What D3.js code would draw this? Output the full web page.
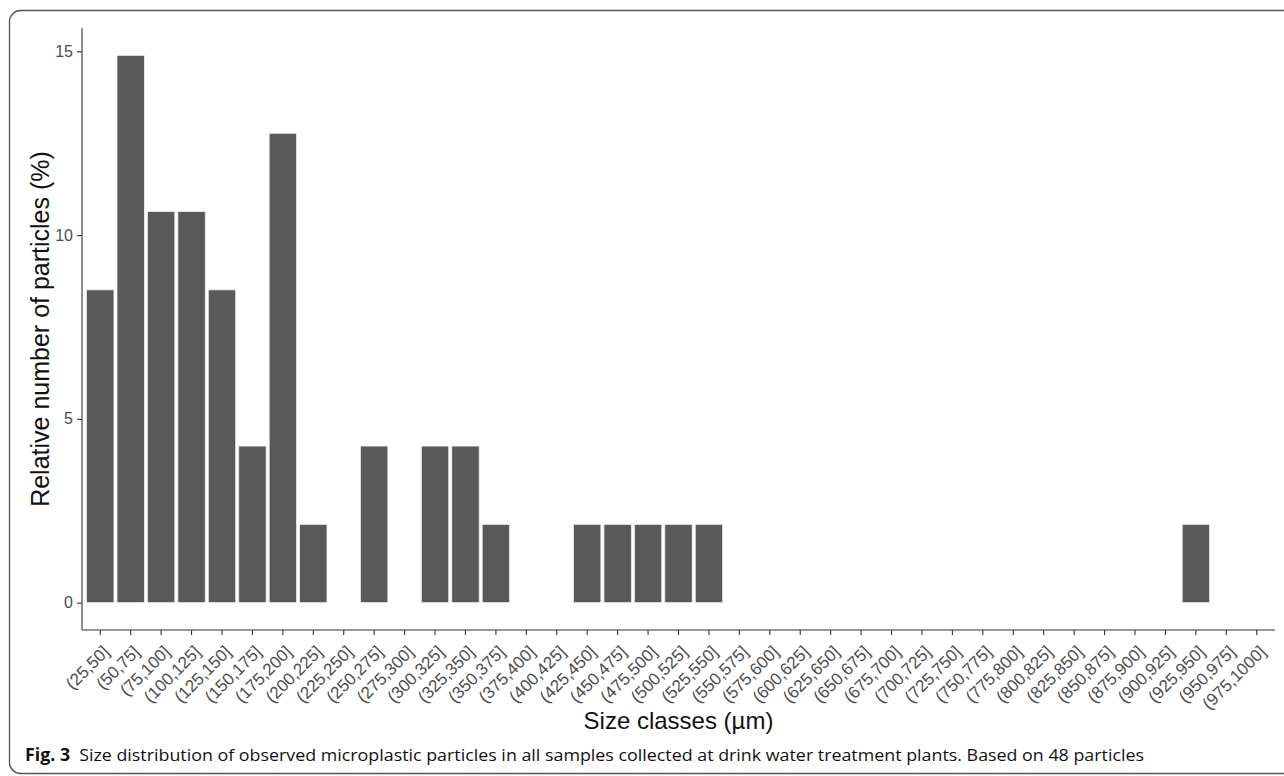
<!DOCTYPE html>
<html>
<head>
<meta charset="utf-8">
<script src="https://cdn.jsdelivr.net/npm/d3@7"></script>
<style>
  html, body { margin: 0; padding: 0; background: #fff; }
  svg { display: block; }
</style>
</head>
<body>
<svg id="chart" width="1284" height="776"></svg>
<script>
// Size classes (µm) and the share of particles in each class (%)
const sizeClasses = [
  "(25,50]", "(50,75]", "(75,100]", "(100,125]", "(125,150]", "(150,175]",
  "(175,200]", "(200,225]", "(225,250]", "(250,275]", "(275,300]", "(300,325]",
  "(325,350]", "(350,375]", "(375,400]", "(400,425]", "(425,450]", "(450,475]",
  "(475,500]", "(500,525]", "(525,550]", "(550,575]", "(575,600]", "(600,625]",
  "(625,650]", "(650,675]", "(675,700]", "(700,725]", "(725,750]", "(750,775]",
  "(775,800]", "(800,825]", "(825,850]", "(850,875]", "(875,900]", "(900,925]",
  "(925,950]", "(950,975]", "(975,1000]"
];
const relativeShare = [
  8.51, 14.89, 10.64, 10.64, 8.51, 4.26,
  12.77, 2.13, 0, 4.26, 0, 4.26,
  4.26, 2.13, 0, 0, 2.13, 2.13,
  2.13, 2.13, 2.13, 0, 0, 0,
  0, 0, 0, 0, 0, 0,
  0, 0, 0, 0, 0, 0,
  2.13, 0, 0
];
const yTicks = [0, 5, 10, 15];

const svg = d3.select("#chart");

// Figure frame
svg.append("rect")
  .attr("x", 9.5).attr("y", 10.5)
  .attr("width", 1320).attr("height", 763)
  .attr("rx", 11).attr("ry", 11)
  .attr("fill", "none")
  .attr("stroke", "#555")
  .attr("stroke-width", 1.3);

const panel = { left: 82, right: 1275, top: 28, bottom: 630 };

const x = d3.scaleBand()
  .domain(sizeClasses)
  .range([panel.left, panel.right])
  .paddingInner(0.1)
  .paddingOuter(0.15);

const yMax = d3.max(relativeShare);
const y = d3.scaleLinear()
  .domain([-0.05 * yMax, yMax * 1.05])
  .range([panel.bottom, panel.top]);

const data = sizeClasses.map((c, i) => ({ cls: c, value: relativeShare[i] }));

// Bars
svg.append("g")
  .selectAll("rect")
  .data(data.filter(d => d.value > 0))
  .join("rect")
  .attr("x", d => x(d.cls))
  .attr("width", x.bandwidth())
  .attr("y", d => y(d.value))
  .attr("height", d => y(0) - y(d.value))
  .attr("fill", "#595959")
  .attr("stroke", "#ececec")
  .attr("stroke-width", 0.8);

// Y axis
const yAxis = svg.append("g")
  .attr("transform", `translate(${panel.left},0)`)
  .call(d3.axisLeft(y).tickValues(yTicks).tickSize(5).tickPadding(4).tickFormat(d3.format("d")));
yAxis.select(".domain").attr("d", `M0,${panel.top}V${panel.bottom}`).attr("stroke", "#333").attr("stroke-width", 1.1);
yAxis.selectAll(".tick line").attr("stroke", "#333").attr("stroke-width", 1.1);
yAxis.selectAll(".tick text")
  .attr("fill", "#4d4d4d")
  .style("font-family", "'Liberation Sans', Arial, sans-serif")
  .style("font-size", "16px");

// X axis
const xAxis = svg.append("g")
  .attr("transform", `translate(0,${panel.bottom})`)
  .call(d3.axisBottom(x).tickSize(5).tickSizeOuter(0));
xAxis.select(".domain").attr("d", `M${panel.left},0H${panel.right}`).attr("stroke", "#333").attr("stroke-width", 1.1);
xAxis.selectAll(".tick line").attr("stroke", "#333").attr("stroke-width", 1.1);
xAxis.selectAll(".tick text")
  .attr("fill", "#4d4d4d")
  .attr("text-anchor", "end")
  .attr("y", 0)
  .attr("dy", 0)
  .attr("transform", "translate(10,23) rotate(-45)")
  .style("font-family", "'Liberation Sans', Arial, sans-serif")
  .style("font-size", "17px");

// Axis titles
svg.append("text")
  .attr("x", (panel.left + panel.right) / 2)
  .attr("y", 729)
  .attr("text-anchor", "middle")
  .attr("fill", "#111")
  .style("font-family", "'Liberation Sans', Arial, sans-serif")
  .style("font-size", "24px")
  .text("Size classes (µm)");

svg.append("text")
  .attr("transform", `translate(49,${(panel.top + panel.bottom) / 2}) rotate(-90)`)
  .attr("text-anchor", "middle")
  .attr("fill", "#111")
  .style("font-family", "'Liberation Sans', Arial, sans-serif")
  .style("font-size", "25px")
  .text("Relative number of particles (%)");

// Caption
const caption = svg.append("text")
  .attr("x", 25)
  .attr("y", 761)
  .attr("fill", "#111")
  .style("font-family", "'Open Sans', 'Noto Sans', sans-serif")
  .style("font-size", "17px")
  .attr("textLength", 1119)
  .attr("lengthAdjust", "spacingAndGlyphs");
caption.append("tspan").attr("font-weight", "bold").text("Fig. 3");
caption.append("tspan").text("\u2002Size distribution of observed microplastic particles in all samples collected at drink water treatment plants. Based on 48 particles");
</script>
</body>
</html>
